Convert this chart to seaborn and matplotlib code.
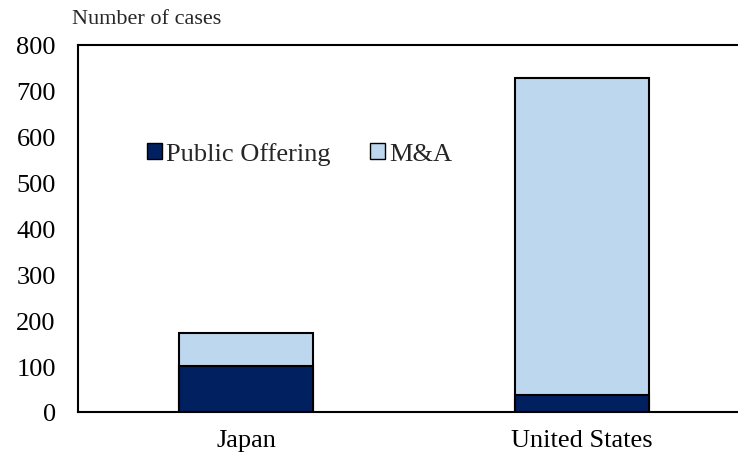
import matplotlib
matplotlib.use("Agg")
import matplotlib.pyplot as plt
import seaborn as sns
import pandas as pd
from matplotlib.patches import Patch

categories = ["Japan", "United States"]
public_offering = [100, 37]
ma = [73, 691]
yticks = [0, 100, 200, 300, 400, 500, 600, 700, 800]

dark = "#002060"
light = "#BDD7EE"

sns.set_theme(style="white")
plt.rcParams['font.family'] = ['Liberation Serif', 'DejaVu Serif']

df = pd.DataFrame({"country": categories, "po": public_offering, "ma": ma})
df["total"] = df["po"] + df["ma"]

fig = plt.figure(figsize=(7.38, 4.64), dpi=100)
ax = fig.add_axes([78/738, 1 - 413/464, 1 - 78/738, (413 - 46)/464])

sns.barplot(data=df, x="country", y="total", color=light, edgecolor="black",
            linewidth=1.5, width=0.4, saturation=1, ax=ax)
sns.barplot(data=df, x="country", y="po", color=dark, edgecolor="black",
            linewidth=1.5, width=0.4, saturation=1, ax=ax)

ax.set_xlim(-0.5, 1.464)
ax.set_ylim(0, 800)
ax.set_yticks(yticks)
ax.set_xlabel("")
ax.set_ylabel("")
ax.tick_params(axis="both", length=0, labelsize=19, colors="black")
ax.tick_params(axis="x", pad=12)
ax.tick_params(axis="y", pad=16)
for s in ["left", "bottom", "top"]:
    ax.spines[s].set_visible(True)
    ax.spines[s].set_color("black")
    ax.spines[s].set_linewidth(1.5)
ax.spines["right"].set_visible(False)

handles = [Patch(facecolor=dark, edgecolor="black", label="Public Offering"),
           Patch(facecolor=light, edgecolor="black", label="M&A")]
ax.legend(handles=handles, ncol=2, frameon=False, fontsize=19,
          loc="center left", bbox_to_anchor=((147 - 78) / 660, (413 - 155) / 367),
          handlelength=0.57, handleheight=0.57, handletextpad=0.15,
          columnspacing=1.5, borderpad=0, borderaxespad=0)

fig.text(72/738, 1 - 19/464, "Number of cases", fontsize=16, va="center", ha="left")

fig.savefig("out.png", dpi=100)
